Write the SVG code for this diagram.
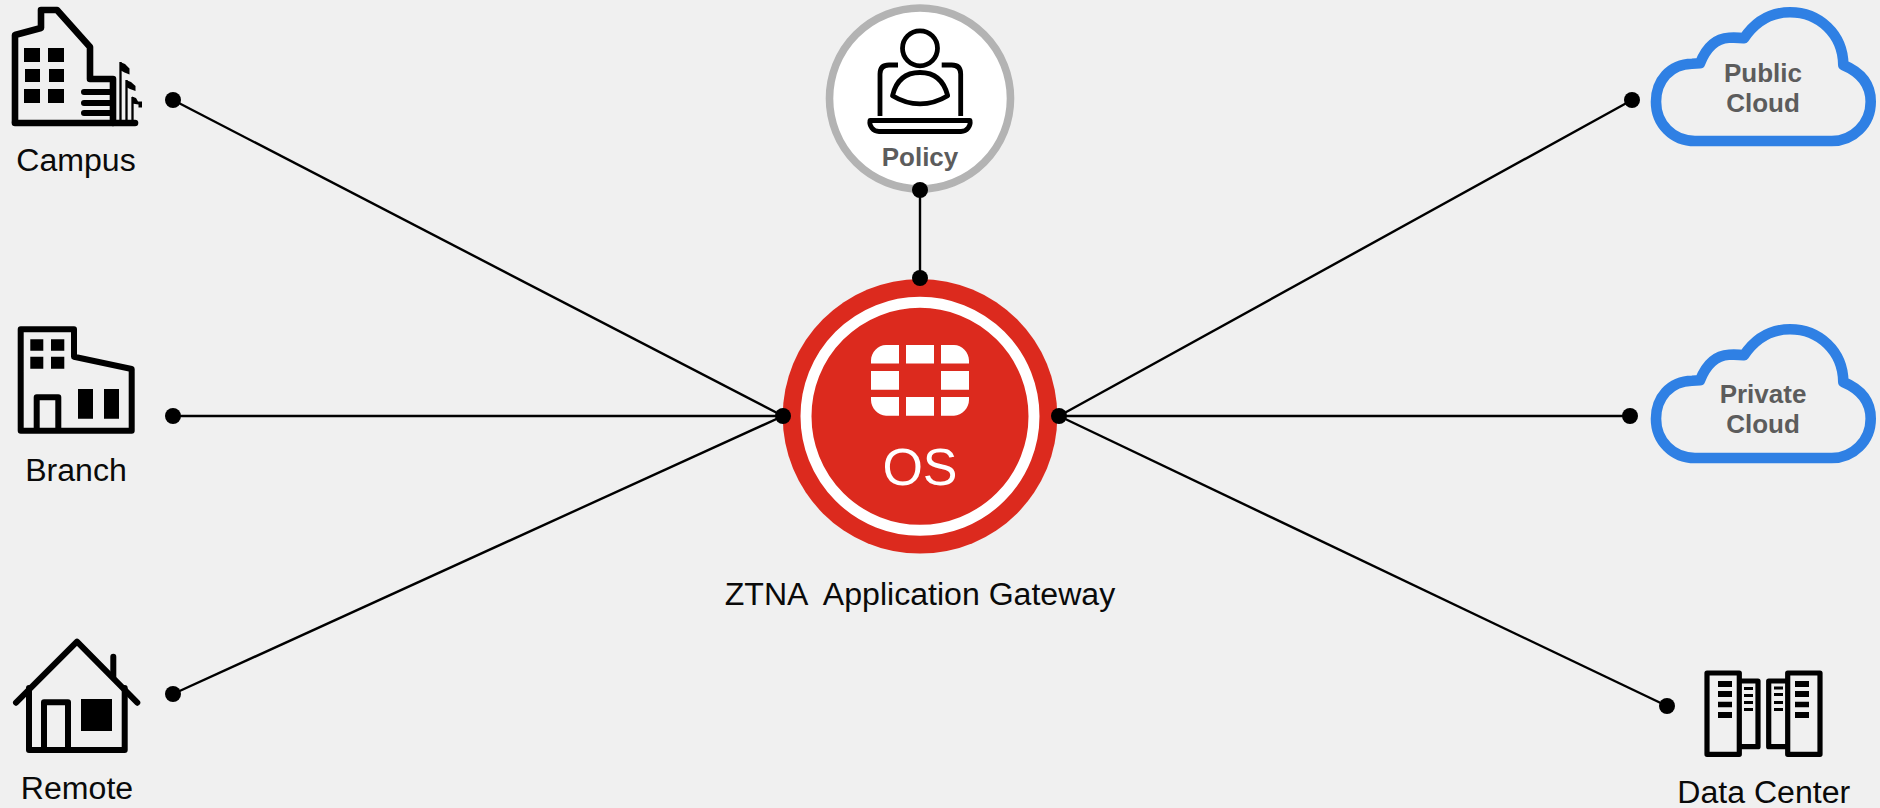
<svg xmlns="http://www.w3.org/2000/svg" width="1880" height="808" viewBox="0 0 1880 808">
<defs>
<style>
.lbl{font-family:"Liberation Sans",Arial,sans-serif;font-size:32.1px;fill:#0a0a0a;text-anchor:middle}
.bold{font-family:"Liberation Sans",Arial,sans-serif;font-size:26px;font-weight:700;fill:#5c5c5c;text-anchor:middle}
.ic{fill:none;stroke:#000;stroke-width:6;stroke-linejoin:round;stroke-linecap:round}
.thick{stroke-width:6.600}
.cloud{fill:none;stroke:#2f80e4;stroke-width:10.600;stroke-linejoin:round}
.conn{stroke:#000;stroke-width:2.4;fill:none}
.white{fill:#fff}
</style>
<path id="cloudShape" d="M1695,141 H1831.700 C1853,141 1870.700,124 1870.700,101.700 C1870.700,84 1860,72 1843.300,65 C1843,34 1819,12.300 1790,12.300 C1771,12.300 1755,22 1744,38.300 C1739,37.500 1734,37.500 1729,37.700 C1715,38.500 1706,48 1700,63.300 L1692,63.700 C1670,64 1656,81 1656,101.700 C1656,124 1673,141 1695,141 Z"/>
</defs>
<rect width="1880" height="808" fill="#f0f0f0"/>
<g id="connectors" class="conn">
<line x1="173" y1="100" x2="783" y2="416"/>
<line x1="173" y1="416" x2="783" y2="416"/>
<line x1="173" y1="694" x2="783" y2="416"/>
<line x1="920" y1="190" x2="920" y2="278"/>
<line x1="1059" y1="416" x2="1632" y2="100"/>
<line x1="1059" y1="416" x2="1630" y2="416"/>
<line x1="1059" y1="416" x2="1667" y2="706"/>
</g>
<g id="campus">
<path class="ic thick" d="M15,122 V35 L41,28 V10 H57 L90,47 V79 H113 V123"/>
<path class="ic thick" d="M15,123 H135"/>
<path class="ic" d="M84,92 H111 M84,103 H111 M84,113 H111"/>
<path d="M24,48h16v14h-16z M48,48h16v14h-16z M25,69h15v13h-15z M49,69h15v13h-15z M24,89h16v14h-16z M48,89h16v14h-16z"/>
<path fill="none" stroke="#000" stroke-width="2.300" d="M120.500,121V62 M126.500,121V80 M132.500,121V97"/>
<path d="M120,62 L125,64 L129.500,68.500 V74.500 L124.500,72.500 L120,70 Z M126,80 L131,82 L135.500,86 V91 L130,89 L126,87 Z M132,96.500 L136,98 L138,101.500 H142 V107.500 L138.500,107.500 V104.500 L132,103.500 Z"/>
<text class="lbl" x="76" y="171">Campus</text>
</g>
<g id="branch">
<path class="ic" d="M20.700,329.300 H74 V356.700 L131.700,369 V430.700 H20.700 Z"/>
<path class="ic" d="M36.700,430 V397.300 H58.300 V430"/>
<path d="M30.300,339.300h13v11.400h-13z M51,339.300h13.300v11.400h-13.300z M30.300,356.700h13v12h-13z M51,356.700h13.300v12h-13.300z M78,389h15v29.700h-15z M104,389h15v29.700h-15z"/>
<text class="lbl" x="76" y="481">Branch</text>
</g>
<g id="remote">
<path class="ic" d="M16,702.700 L77,641.700 L137.300,702.700"/>
<path class="ic" d="M113.300,656.700 V676.700"/>
<path class="ic" d="M29,688 V750 H124.700 V688"/>
<path class="ic" d="M44,750 V702.300 H68 V750"/>
<rect x="81" y="699" width="31" height="32"/>
<text class="lbl" x="77" y="799">Remote</text>
</g>
<g id="policy">
<circle cx="920" cy="98.500" r="90.500" fill="#fff" stroke="#b3b3b3" stroke-width="7.600"/>
<g fill="none" stroke="#000" stroke-width="4.800">
<circle cx="920" cy="48.300" r="17.500"/>
<path d="M892.500,95.700 C896,81 905,72.500 920,72.500 C935,72.500 944,81 947.700,95.700 C930,106.500 910,106.500 892.500,95.700 Z" stroke-linejoin="round"/>
<path d="M880,116 V74 Q880,65 889,65 H898 M960.700,116 V74 Q960.700,65 951.700,65 H941.700"/>
<path d="M870,120.500 H970 C971,126 967,131.500 961,131.500 H879 C873,131.500 869,126 870,120.500 Z" stroke-linejoin="round"/>
</g>
<text class="bold" x="920" y="166">Policy</text>
</g>
<g id="gateway">
<circle cx="920" cy="416.300" r="137.300" fill="#dc2a1e"/>
<circle cx="920" cy="416.300" r="114" fill="none" stroke="#fff" stroke-width="11"/>
<path class="white" d="M906,345h28v18.500h-28z M906,397h28v18.700h-28z M871,371h28v18.700h-28z M941,371h28v18.700h-28z M899,345v18.500h-28v-3c0,-8 7,-15.500 15,-15.500z M941,345v18.500h28v-3c0,-8 -7,-15.500 -15,-15.500z M899,415.700v-18.700h-28v3c0,8 7,15.700 15,15.700z M941,415.700v-18.700h28v3c0,8 -7,15.700 -15,15.700z"/>
<text x="920" y="484.500" font-family="'Liberation Sans',Arial,sans-serif" font-size="52" fill="#fff" text-anchor="middle">OS</text>
<text class="lbl" x="920" y="605" style="white-space:pre">ZTNA  Application Gateway</text>
</g>
<g id="public-cloud">
<use href="#cloudShape" class="cloud"/>
<text class="bold" x="1763" y="82">Public</text>
<text class="bold" x="1763" y="112">Cloud</text>
</g>
<g id="private-cloud">
<use href="#cloudShape" class="cloud" y="317"/>
<text class="bold" x="1763" y="403">Private</text>
<text class="bold" x="1763" y="433">Cloud</text>
</g>
<g id="data-center">
<g fill="none" stroke="#000" stroke-width="5.200" stroke-linejoin="round">
<rect x="1707" y="673" width="32.300" height="81.300"/>
<rect x="1787.700" y="673" width="32.300" height="81.300"/>
<path d="M1739.300,681 H1758 V746.700 H1739.300 M1787.700,681 H1768.700 V746.700 H1787.700"/>
</g>
<path d="M1718,681h14v6h-14z M1718,691h14v6h-14z M1718,701.700h14v5.600h-14z M1718,712h14v6h-14z M1795,681h14v6h-14z M1795,691h14v6h-14z M1795,701.700h14v5.600h-14z M1795,712h14v6h-14z M1744,687h9v3h-9z M1744,694h9v3h-9z M1744,701h9v3h-9z M1744,708h9v3h-9z M1774,686.500h9v3h-9z M1774,693h9v3h-9z M1774,701h9v3h-9z M1774,708h9v3h-9z"/>
<text class="lbl" x="1763.700" y="803">Data Center</text>
</g>
<g id="connector-dots">
<circle cx="173" cy="100" r="8"/>
<circle cx="173" cy="416" r="8"/>
<circle cx="173" cy="694" r="8"/>
<circle cx="783" cy="416" r="8"/>
<circle cx="1059" cy="416" r="8"/>
<circle cx="920" cy="278" r="8"/>
<circle cx="920" cy="190" r="8"/>
<circle cx="1632" cy="100" r="8"/>
<circle cx="1630" cy="416" r="8"/>
<circle cx="1667" cy="706" r="8"/>
</g>
</svg>
